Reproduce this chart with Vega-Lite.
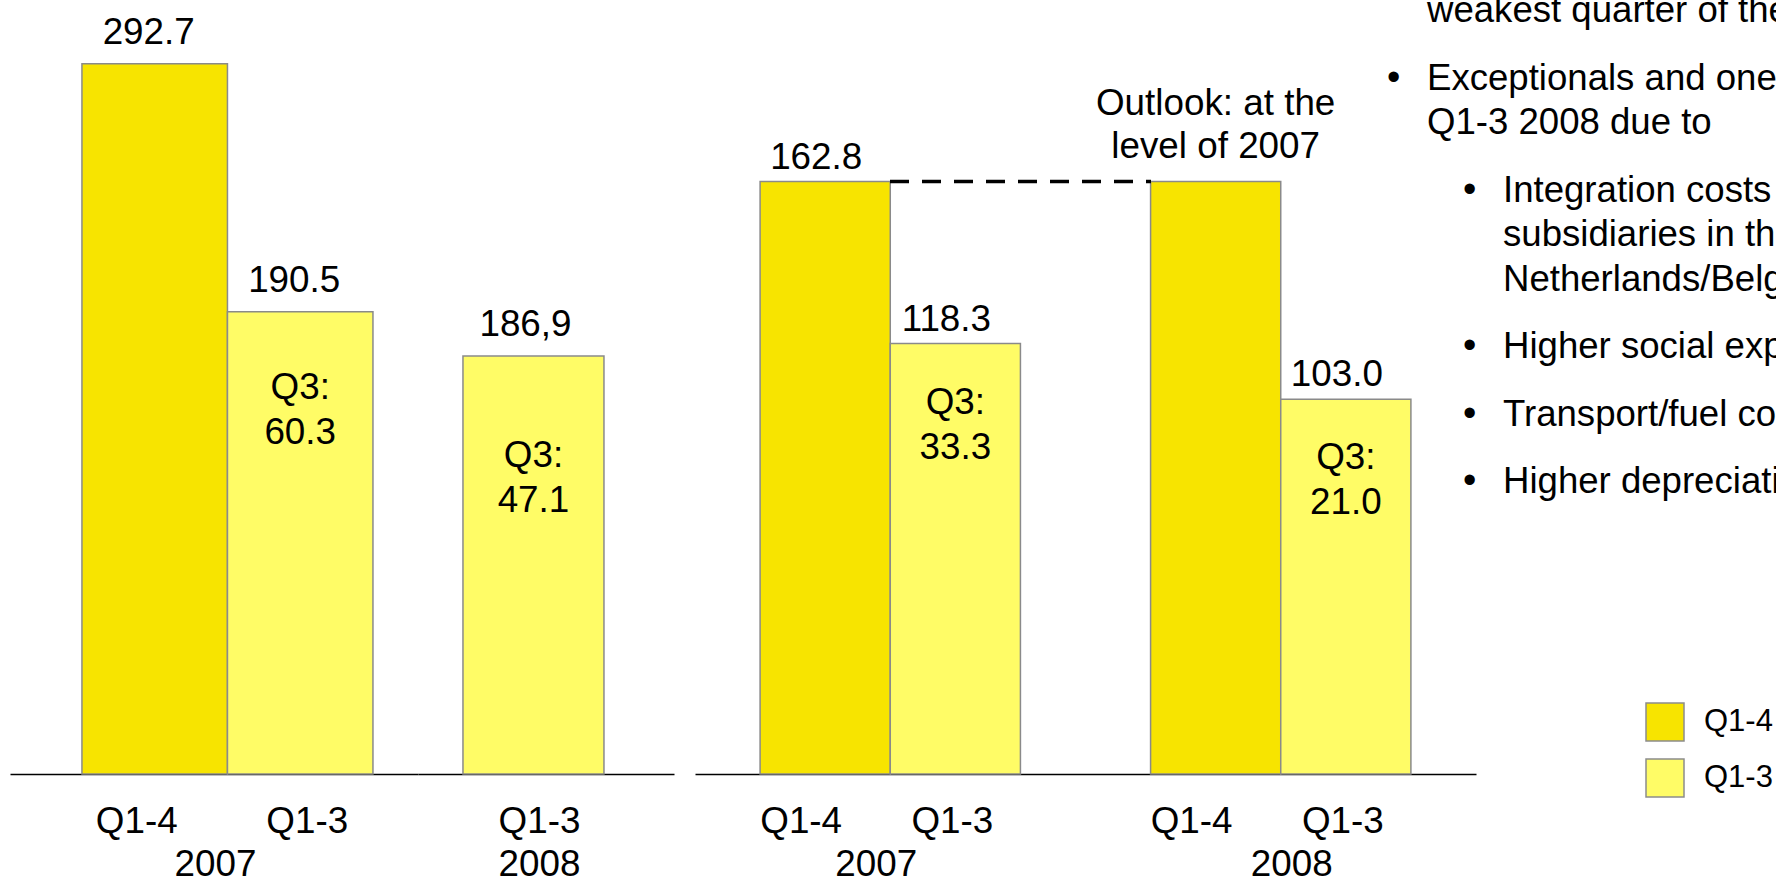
{
  "$schema": "https://vega.github.io/schema/vega-lite/v6.json",
  "width": 1776,
  "height": 774,
  "autosize": {"type": "none"},
  "padding": {"left": 0, "top": 0, "right": 0, "bottom": 106},
  "background": "white",
  "config": {
    "view": {"stroke": null},
    "font": "Liberation Sans",
    "text": {"font": "Liberation Sans", "fontSize": 36.8, "color": "#000000"}
  },
  "datasets": {
    "bars": [
      {"panel": "p1", "year": "2007", "period": "Q1-4", "value": 292.7, "label": "292.7", "q3": null, "note": null},
      {"panel": "p1", "year": "2007", "period": "Q1-3", "value": 190.5, "label": "190.5", "q3": ["Q3:", "60.3"], "note": null},
      {"panel": "p1", "year": "2008", "period": "Q1-3", "value": 172.3, "label": "186,9", "q3": ["Q3:", "47.1"], "note": null},
      {"panel": "p2", "year": "2007", "period": "Q1-4", "value": 162.8, "label": "162.8", "q3": null, "note": null},
      {"panel": "p2", "year": "2007", "period": "Q1-3", "value": 118.3, "label": "118.3", "q3": ["Q3:", "33.3"], "note": null},
      {"panel": "p2", "year": "2008", "period": "Q1-4", "value": 162.8, "label": null, "q3": null, "note": ["Outlook: at the", "level of 2007"]},
      {"panel": "p2", "year": "2008", "period": "Q1-3", "value": 103.0, "label": "103.0", "q3": ["Q3:", "21.0"], "note": null}
    ],
    "notes": [
      {"level": 1, "row": 0, "bullet": false, "text": "weakest quarter of the year"},
      {"level": 1, "row": 3, "bullet": true, "text": "Exceptionals and one-off effects in"},
      {"level": 1, "row": 5, "bullet": false, "text": "Q1-3 2008 due to"},
      {"level": 2, "row": 8, "bullet": true, "text": "Integration costs for the new"},
      {"level": 2, "row": 10, "bullet": false, "text": "subsidiaries in the"},
      {"level": 2, "row": 12, "bullet": false, "text": "Netherlands/Belgium"},
      {"level": 2, "row": 15, "bullet": true, "text": "Higher social expenses"},
      {"level": 2, "row": 18, "bullet": true, "text": "Transport/fuel costs"},
      {"level": 2, "row": 21, "bullet": true, "text": "Higher depreciation"}
    ]
  },
  "layer": [
    {
      "data": {"name": "bars"},
      "transform": [{"filter": "datum.panel === 'p1' && datum.year === '2007'"}],
      "layer": [
        {
          "mark": {"type": "bar", "stroke": "#8a8a8a", "strokeWidth": 1.5},
          "encoding": {
            "x": {"field": "year", "type": "nominal", "scale": {"range": [10, 418], "paddingInner": 0, "paddingOuter": 0.201, "align": 0.615},
                  "axis": {"orient": "bottom", "domain": true, "domainColor": "#000000", "domainWidth": 1.5, "labels": false, "ticks": false, "title": null, "grid": false}},
            "xOffset": {"field": "period", "type": "nominal", "scale": {"domain": ["Q1-4", "Q1-3"], "paddingInner": 0, "paddingOuter": 0}},
            "y": {"field": "value", "type": "quantitative", "scale": {"domain": [0, 319], "nice": false}, "axis": null},
            "color": {"field": "period", "type": "nominal", "scale": {"domain": ["Q1-4", "Q1-3"], "range": ["#F7E400", "#FFFC66"]},
                      "legend": {"orient": "none", "legendX": 1645, "legendY": 702, "title": null, "symbolType": "square", "symbolSize": 1444, "symbolStrokeColor": "#8c8c8c", "symbolStrokeWidth": 1.5, "labelFontSize": 31, "labelFont": "Liberation Sans", "labelColor": "#000000", "labelOffset": 19, "rowPadding": 12, "padding": 0, "symbolOpacity": 1,
                                 "encode": {"symbols": {"update": {"fill": {"signal": "datum.value === 'Q1-3' ? '#FFFFA0' : '#F7E400'"}, "stroke": {"value": "#8c8c8c"}, "strokeWidth": {"value": 1.5}}}}}}
          }
        },
        {
          "transform": [{"filter": "datum.label != null"}],
          "mark": {"type": "text", "baseline": "alphabetic", "dy": -20, "dx": -6},
          "encoding": {
            "x": {"field": "year", "type": "nominal"},
            "xOffset": {"field": "period", "type": "nominal"},
            "y": {"field": "value", "type": "quantitative"},
            "text": {"field": "label", "type": "nominal"}
          }
        },
        {
          "transform": [{"filter": "datum.q3 != null"}],
          "mark": {"type": "text", "baseline": "alphabetic", "dy": 87, "lineHeight": 45},
          "encoding": {
            "x": {"field": "year", "type": "nominal"},
            "xOffset": {"field": "period", "type": "nominal"},
            "y": {"field": "value", "type": "quantitative"},
            "text": {"field": "q3", "type": "nominal"}
          }
        },
        {
          "transform": [{"filter": "datum.period === 'Q1-4'"}],
          "mark": {"type": "text", "baseline": "alphabetic", "dy": 59, "dx": -18},
          "encoding": {
            "x": {"field": "year", "type": "nominal"},
            "xOffset": {"field": "period", "type": "nominal"},
            "y": {"datum": 0, "type": "quantitative"},
            "text": {"field": "period", "type": "nominal"}
          }
        },
        {
          "transform": [{"filter": "datum.period === 'Q1-3'"}],
          "mark": {"type": "text", "baseline": "alphabetic", "dy": 59, "dx": 7},
          "encoding": {
            "x": {"field": "year", "type": "nominal"},
            "xOffset": {"field": "period", "type": "nominal"},
            "y": {"datum": 0, "type": "quantitative"},
            "text": {"field": "period", "type": "nominal"}
          }
        },
        {
          "transform": [{"filter": "datum.period === 'Q1-4'"}],
          "mark": {"type": "text", "baseline": "alphabetic", "dy": 102, "dx": -12},
          "encoding": {
            "x": {"field": "year", "type": "nominal"},
            "y": {"datum": 0, "type": "quantitative"},
            "text": {"field": "year", "type": "nominal"}
          }
        }
      ]
    },
    {
      "data": {"name": "bars"},
      "transform": [{"filter": "datum.panel === 'p1' && datum.year === '2008'"}],
      "layer": [
        {
          "mark": {"type": "bar", "stroke": "#8a8a8a", "strokeWidth": 1.5},
          "encoding": {
            "x": {"field": "year", "type": "nominal", "scale": {"range": [418, 674], "paddingInner": 0, "paddingOuter": 0.4078, "align": 0.391},
                  "axis": {"orient": "bottom", "domain": true, "domainColor": "#000000", "domainWidth": 1.5, "labels": false, "ticks": false, "title": null, "grid": false}},
            "xOffset": {"field": "period", "type": "nominal", "scale": {"domain": ["Q1-3"], "paddingInner": 0, "paddingOuter": 0}},
            "y": {"field": "value", "type": "quantitative", "scale": {"domain": [0, 319], "nice": false}, "axis": null},
            "color": {"field": "period", "type": "nominal", "scale": {"domain": ["Q1-4", "Q1-3"], "range": ["#F7E400", "#FFFC66"]},
                      "legend": {"orient": "none", "legendX": 1645, "legendY": 702, "title": null, "symbolType": "square", "symbolSize": 1444, "symbolStrokeColor": "#8c8c8c", "symbolStrokeWidth": 1.5, "labelFontSize": 31, "labelFont": "Liberation Sans", "labelColor": "#000000", "labelOffset": 19, "rowPadding": 12, "padding": 0, "symbolOpacity": 1,
                                 "encode": {"symbols": {"update": {"fill": {"signal": "datum.value === 'Q1-3' ? '#FFFFA0' : '#F7E400'"}, "stroke": {"value": "#8c8c8c"}, "strokeWidth": {"value": 1.5}}}}}}
          }
        },
        {
          "transform": [{"filter": "datum.label != null"}],
          "mark": {"type": "text", "baseline": "alphabetic", "dy": -20, "dx": -8},
          "encoding": {
            "x": {"field": "year", "type": "nominal"},
            "xOffset": {"field": "period", "type": "nominal"},
            "y": {"field": "value", "type": "quantitative"},
            "text": {"field": "label", "type": "nominal"}
          }
        },
        {
          "transform": [{"filter": "datum.q3 != null"}],
          "mark": {"type": "text", "baseline": "alphabetic", "dy": 111, "lineHeight": 45},
          "encoding": {
            "x": {"field": "year", "type": "nominal"},
            "xOffset": {"field": "period", "type": "nominal"},
            "y": {"field": "value", "type": "quantitative"},
            "text": {"field": "q3", "type": "nominal"}
          }
        },
        {
          "mark": {"type": "text", "baseline": "alphabetic", "dy": 59, "dx": 6},
          "encoding": {
            "x": {"field": "year", "type": "nominal"},
            "xOffset": {"field": "period", "type": "nominal"},
            "y": {"datum": 0, "type": "quantitative"},
            "text": {"field": "period", "type": "nominal"}
          }
        },
        {
          "mark": {"type": "text", "baseline": "alphabetic", "dy": 102, "dx": 6},
          "encoding": {
            "x": {"field": "year", "type": "nominal"},
            "y": {"datum": 0, "type": "quantitative"},
            "text": {"field": "year", "type": "nominal"}
          }
        }
      ]
    },
    {
      "data": {"name": "bars"},
      "transform": [{"filter": "datum.panel === 'p2'"}],
      "layer": [
        {
          "mark": {"type": "bar", "stroke": "#8a8a8a", "strokeWidth": 1.5},
          "encoding": {
            "x": {"field": "year", "type": "nominal", "scale": {"domain": ["2007", "2008"], "range": [695, 1476], "paddingInner": 0.3333, "paddingOuter": 0.1667, "align": 0.5},
                  "axis": {"orient": "bottom", "domain": true, "domainColor": "#000000", "domainWidth": 1.5, "labels": false, "ticks": false, "title": null, "grid": false}},
            "xOffset": {"field": "period", "type": "nominal", "scale": {"domain": ["Q1-4", "Q1-3"], "paddingInner": 0, "paddingOuter": 0}},
            "y": {"field": "value", "type": "quantitative", "scale": {"domain": [0, 212.7], "nice": false}, "axis": null},
            "color": {"field": "period", "type": "nominal", "scale": {"domain": ["Q1-4", "Q1-3"], "range": ["#F7E400", "#FFFC66"]},
                      "legend": {"orient": "none", "legendX": 1645, "legendY": 702, "title": null, "symbolType": "square", "symbolSize": 1444, "symbolStrokeColor": "#8c8c8c", "symbolStrokeWidth": 1.5, "labelFontSize": 31, "labelFont": "Liberation Sans", "labelColor": "#000000", "labelOffset": 19, "rowPadding": 12, "padding": 0, "symbolOpacity": 1,
                                 "encode": {"symbols": {"update": {"fill": {"signal": "datum.value === 'Q1-3' ? '#FFFFA0' : '#F7E400'"}, "stroke": {"value": "#8c8c8c"}, "strokeWidth": {"value": 1.5}}}}}}
          }
        },
        {
          "transform": [{"filter": "datum.label != null"}],
          "mark": {"type": "text", "baseline": "alphabetic", "dy": -13, "dx": -9},
          "encoding": {
            "x": {"field": "year", "type": "nominal"},
            "xOffset": {"field": "period", "type": "nominal"},
            "y": {"field": "value", "type": "quantitative"},
            "text": {"field": "label", "type": "nominal"}
          }
        },
        {
          "transform": [{"filter": "datum.note != null"}],
          "mark": {"type": "text", "baseline": "alphabetic", "dy": -67, "dx": 0, "lineHeight": 43},
          "encoding": {
            "x": {"field": "year", "type": "nominal"},
            "xOffset": {"field": "period", "type": "nominal"},
            "y": {"field": "value", "type": "quantitative"},
            "text": {"field": "note", "type": "nominal"}
          }
        },
        {
          "transform": [{"filter": "datum.q3 != null"}],
          "mark": {"type": "text", "baseline": "alphabetic", "dy": 70, "lineHeight": 45},
          "encoding": {
            "x": {"field": "year", "type": "nominal"},
            "xOffset": {"field": "period", "type": "nominal"},
            "y": {"field": "value", "type": "quantitative"},
            "text": {"field": "q3", "type": "nominal"}
          }
        },
        {
          "transform": [{"filter": "datum.period === 'Q1-4'"}],
          "mark": {"type": "text", "baseline": "alphabetic", "dy": 59, "dx": -24},
          "encoding": {
            "x": {"field": "year", "type": "nominal"},
            "xOffset": {"field": "period", "type": "nominal"},
            "y": {"datum": 0, "type": "quantitative"},
            "text": {"field": "period", "type": "nominal"}
          }
        },
        {
          "transform": [{"filter": "datum.period === 'Q1-3'"}],
          "mark": {"type": "text", "baseline": "alphabetic", "dy": 59, "dx": -3},
          "encoding": {
            "x": {"field": "year", "type": "nominal"},
            "xOffset": {"field": "period", "type": "nominal"},
            "y": {"datum": 0, "type": "quantitative"},
            "text": {"field": "period", "type": "nominal"}
          }
        },
        {
          "transform": [{"filter": "datum.period === 'Q1-4' && datum.year === '2007'"}],
          "mark": {"type": "text", "baseline": "alphabetic", "dy": 102, "dx": -14},
          "encoding": {
            "x": {"field": "year", "type": "nominal"},
            "y": {"datum": 0, "type": "quantitative"},
            "text": {"field": "year", "type": "nominal"}
          }
        },
        {
          "transform": [{"filter": "datum.period === 'Q1-4' && datum.year === '2008'"}],
          "mark": {"type": "text", "baseline": "alphabetic", "dy": 102, "dx": 11},
          "encoding": {
            "x": {"field": "year", "type": "nominal"},
            "y": {"datum": 0, "type": "quantitative"},
            "text": {"field": "year", "type": "nominal"}
          }
        }
      ]
    },
    {
      "data": {"name": "bars"},
      "transform": [{"filter": "datum.panel === 'p2' && datum.period === 'Q1-4'"}],
      "mark": {"type": "line", "strokeDash": [19, 13], "strokeWidth": 3.5, "color": "#000000"},
      "encoding": {
        "x": {"field": "year", "type": "ordinal", "scale": {"type": "point", "domain": ["2007", "2008"], "range": [890, 1151], "padding": 0}, "axis": null},
        "y": {"field": "value", "type": "quantitative", "scale": {"domain": [0, 212.7], "nice": false}, "axis": null}
      }
    },
    {
      "data": {"name": "notes"},
      "encoding": {
        "x": {"field": "level", "type": "ordinal", "scale": {"type": "point", "domain": [1, 2], "range": [1387, 1463], "padding": 0}, "axis": null},
        "y": {"field": "row", "type": "quantitative", "scale": {"domain": [0, 21], "range": [22.4, 492.8], "nice": false, "zero": false}, "axis": null}
      },
      "layer": [
        {
          "transform": [{"filter": "datum.bullet"}],
          "mark": {"type": "text", "align": "left", "baseline": "alphabetic", "fontSize": 38},
          "encoding": {"text": {"value": "•"}}
        },
        {
          "mark": {"type": "text", "align": "left", "baseline": "alphabetic", "dx": 40, "fontSize": 36.6},
          "encoding": {"text": {"field": "text", "type": "nominal"}}
        }
      ]
    }
  ],
  "resolve": {
    "scale": {"x": "independent", "y": "independent", "xOffset": "independent"},
    "axis": {"x": "independent", "y": "independent"}
  }
}
